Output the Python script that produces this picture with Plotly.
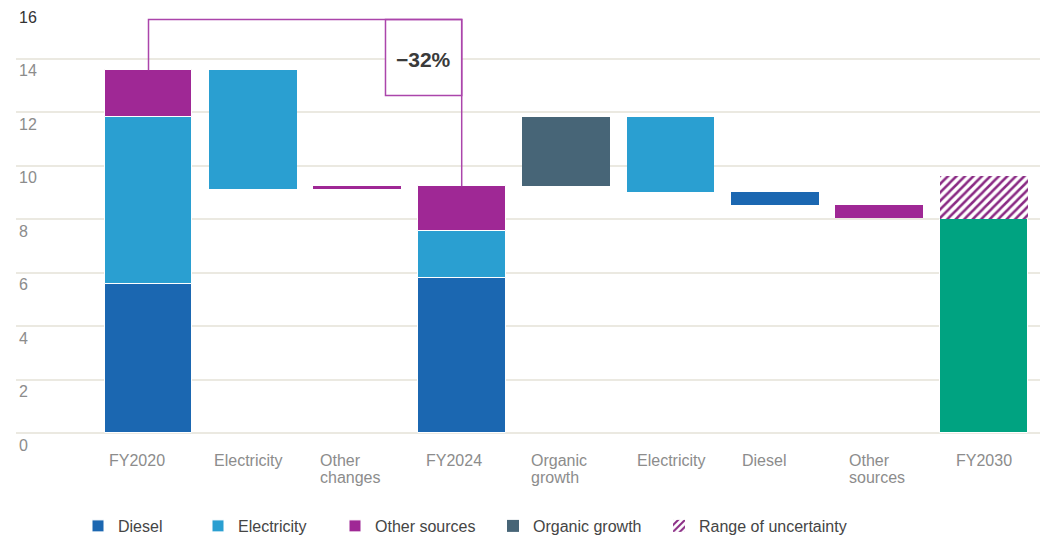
import plotly.graph_objects as go

# ---------------- data ----------------
categories = ["FY2020", "Electricity", "Other<br>changes", "FY2024", "Organic<br>growth",
              "Electricity", "Diesel", "Other<br>sources", "FY2030"]

fy2020 = {"Diesel": 5.56, "Electricity": 6.25, "Other sources": 1.75}
fy2024 = {"Diesel": 5.79, "Electricity": 1.75, "Other sources": 1.68}

# waterfall steps FY2020 -> FY2024 and FY2024 -> FY2030
steps_a_names = ["Electricity", "Other sources"]
steps_a_values = [-4.44, 0.12]
steps_b_names = ["Organic growth", "Electricity", "Diesel", "Other sources"]
steps_b_values = [2.60, -2.80, -0.50, -0.50]

fy2030_target = 8.0
fy2030_upper = 9.6

y_ticks = [0, 2, 4, 6, 8, 10, 12, 14, 16]

colors = {
    "Diesel": "#1b67b1",
    "Electricity": "#2a9fd1",
    "Other sources": "#9f2895",
    "Organic growth": "#476577",
    "FY2030": "#00a381",
    "Range": "#8a2a84",
}

# --------------- build bar segments ---------------
segs = {k: {"x": [], "y": [], "base": [], "lw": []}
        for k in ["Diesel", "Electricity", "Other sources", "Organic growth"]}

def add_stack(xi, stack):
    b = 0.0
    for k, v in stack.items():
        segs[k]["x"].append(xi)
        segs[k]["y"].append(v)
        segs[k]["base"].append(b)
        segs[k]["lw"].append(1)
        b += v
    return b

def add_steps(x_start, start_total, names, values):
    t = start_total
    for i, (n, v) in enumerate(zip(names, values)):
        lo = min(t, t + v)
        segs[n]["x"].append(x_start + i)
        segs[n]["y"].append(abs(v))
        segs[n]["base"].append(lo)
        segs[n]["lw"].append(0)
        t += v
    return t

t20 = add_stack(0, fy2020)
add_steps(1, t20, steps_a_names, steps_a_values)
t24 = add_stack(3, fy2024)
add_steps(4, t24, steps_b_names, steps_b_values)

W, H = 1047, 536
ml, mr, mt, mb = 16, 7, 5, 103
pw = W - ml - mr
ph = H - mt - mb

FONT = "Liberation Sans, Arial"
legend_text_px = [118, 238, 375, 533, 699]
legend_names = ["legend", "legend2", "legend3", "legend4", "legend5"]

fig = go.Figure()
BW = 0.84
for i, name in enumerate(["Diesel", "Electricity", "Other sources", "Organic growth"]):
    s = segs[name]
    fig.add_trace(go.Bar(x=s["x"], y=s["y"], base=s["base"], name=name, width=BW,
                         marker=dict(color=colors[name], line=dict(color="white", width=s["lw"])),
                         legend=legend_names[i], showlegend=True))

fig.add_trace(go.Bar(x=[8], y=[fy2030_target], base=[0], width=BW, name="FY2030",
                     marker=dict(color=colors["FY2030"], line=dict(color="white", width=1)),
                     showlegend=False))
fig.add_trace(go.Bar(x=[8], y=[fy2030_upper - fy2030_target], base=[fy2030_target], width=BW,
                     name="Range of uncertainty", legend=legend_names[4],
                     marker=dict(color="white", line=dict(color="white", width=0),
                                 pattern=dict(shape="/", fgcolor=colors["Range"], bgcolor="white",
                                              size=6, solidity=0.42, fgopacity=1))))

# --------------- bracket annotation ---------------
pc = "#ab45ab"
top_y = 15.46
box_x0, box_y0 = 2.27, 12.62
fig.add_shape(type="rect", x0=box_x0, x1=3, y0=box_y0, y1=top_y, xref="x", yref="y",
              line=dict(color=pc, width=1.5), fillcolor="white", layer="above")
fig.add_shape(type="path", xref="x", yref="y",
              path=f"M 0 {t20} L 0 {top_y} L 3 {top_y} L 3 {t24}",
              line=dict(color=pc, width=1.5), layer="above")
pct = round((t24 / t20 - 1) * 100)
fig.add_annotation(x=(box_x0 + 3) / 2, y=(box_y0 + top_y) / 2, xref="x", yref="y", yshift=-2,
                   text=f"<b>{'−' if pct < 0 else '+'}{abs(pct)}%</b>", showarrow=False,
                   font=dict(size=21, color="#3a3a3a", family=FONT))

# --------------- x labels (left-aligned, custom, tight line spacing) ---------------
label_left_px = [107, 212, 318, 424, 529, 635, 740, 847, 954]
LINE_H = 17
for lab, px in zip(categories, label_left_px):
    for j, line in enumerate(lab.split("<br>")):
        fig.add_annotation(x=(px - ml) / pw, y=0, xref="paper", yref="paper", text=line,
                           xanchor="left", yanchor="top", yshift=-17 - j * LINE_H, align="left",
                           showarrow=False,
                           font=dict(size=16, color="#8c8c8c", family=FONT))

ticktext = [f"<span style='color:#333333'>{v}</span>" if v == 16 else str(v) for v in y_ticks]

x_left = (ml - 148.5) / 104.4
x_right = (W - mr - 148.5) / 104.4

legend_layouts = {}
for ln, tx in zip(legend_names, legend_text_px):
    legend_layouts[ln] = dict(orientation="h", x=(tx - 40 - ml) / pw, xanchor="left",
                              y=-(526 - (mt + ph)) / ph, yanchor="middle",
                              font=dict(size=16, color="#454545", family=FONT), itemwidth=30,
                              bgcolor="rgba(0,0,0,0)")

fig.update_layout(
    width=W, height=H,
    margin=dict(l=ml, r=mr, t=mt, b=mb, autoexpand=False),
    plot_bgcolor="white", paper_bgcolor="white",
    barmode="overlay", bargap=0,
    font=dict(family=FONT, size=16, color="#8c8c8c"),
    xaxis=dict(range=[x_left, x_right], showticklabels=False, showgrid=False, zeroline=False,
               fixedrange=True, automargin=False),
    yaxis=dict(range=[0, 16], tickvals=y_ticks, ticktext=ticktext, showgrid=True,
               gridcolor="#ebe9e1", gridwidth=1.5, zeroline=True, zerolinecolor="#ebe9e1",
               zerolinewidth=1.5, ticks="", ticklabelposition="inside", ticklabelshift=12,
               ticklabelstandoff=0, ticklabeloverflow="allow", automargin=False,
               tickfont=dict(size=16, color="#8c8c8c")),
    showlegend=True,
    **legend_layouts,
)

fig.write_html("out.html", config={"displayModeBar": False},
               post_script="document.body.style.margin='0px';document.body.style.overflow='hidden';")
